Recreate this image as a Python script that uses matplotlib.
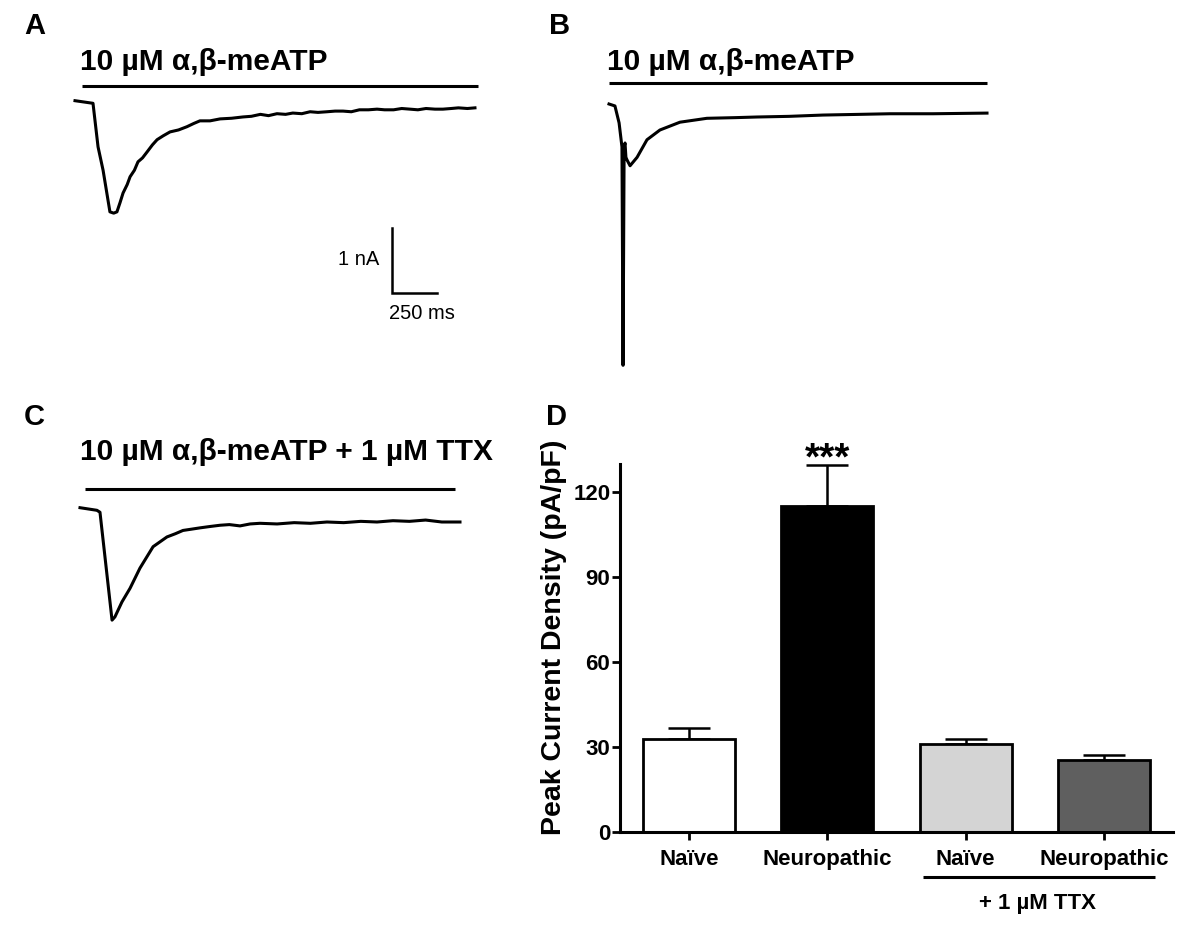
import matplotlib
matplotlib.use("Agg")
import matplotlib.pyplot as plt
import matplotlib.transforms as mtransforms

plt.rcParams['font.family'] = ['Liberation Sans', 'DejaVu Sans']

# Whole-cell currents (time in ms, current in nA)
trace_a_t = [0, 100, 128, 156, 194, 215, 233, 250, 267, 290, 306, 330, 350, 375, 400, 430, 456,
             490, 528, 575, 622, 660, 694, 750, 806, 870, 933, 980, 1030, 1075, 1122, 1170, 1210,
             1260, 1306, 1350, 1400, 1445, 1489, 1535, 1580, 1630, 1678, 1720, 1770, 1815, 1861,
             1905, 1950, 2000, 2044, 2090, 2130, 2180, 2222]
trace_a_i = [0.02, -0.02, -0.69, -1.05, -1.69, -1.71, -1.69, -1.55, -1.40, -1.27, -1.15, -1.05,
             -0.92, -0.86, -0.77, -0.66, -0.58, -0.52, -0.46, -0.43, -0.38, -0.33, -0.29, -0.29,
             -0.26, -0.25, -0.23, -0.22, -0.19, -0.21, -0.18, -0.19, -0.17, -0.18, -0.15, -0.16,
             -0.15, -0.14, -0.14, -0.15, -0.12, -0.12, -0.11, -0.12, -0.12, -0.10, -0.11, -0.12,
             -0.10, -0.11, -0.11, -0.10, -0.09, -0.10, -0.09]

trace_b_t = [0, 33, 56, 72, 78, 84, 89, 94, 100, 117, 156, 211, 283, 394, 544, 700, 822, 1000,
             1189, 1380, 1561, 1800, 2100]
trace_b_i = [0, -0.03, -0.29, -0.66, -4.02, -0.66, -0.60, -0.82, -0.86, -0.95, -0.82, -0.55,
             -0.40, -0.28, -0.22, -0.21, -0.20, -0.19, -0.17, -0.16, -0.15, -0.15, -0.14]

trace_c_t = [0, 94, 111, 178, 194, 233, 278, 333, 406, 483, 530, 572, 620, 667, 720, 778, 830,
             889, 945, 1000, 1095, 1190, 1280, 1372, 1465, 1560, 1650, 1739, 1830, 1920, 2010,
             2111]
trace_c_i = [0.02, -0.02, -0.05, -1.71, -1.66, -1.43, -1.22, -0.91, -0.58, -0.43, -0.38, -0.33,
             -0.31, -0.29, -0.27, -0.25, -0.24, -0.26, -0.23, -0.22, -0.23, -0.21, -0.22, -0.20,
             -0.21, -0.19, -0.20, -0.18, -0.19, -0.17, -0.20, -0.20]

# drug application bars (start, end in ms, level in nA)
drug_a = (39, 2239, 0.25)
drug_b = (0, 2100, 0.32)
drug_c = (28, 2083, 0.31)

# Panel D: peak current density
groups = ["Naïve", "Neuropathic", "Naïve", "Neuropathic"]
means = [32.7, 115.3, 31.0, 25.4]
sems = [4.2, 14.5, 1.8, 1.9]
colors = ["white", "black", "#d4d4d4", "#5f5f5f"]

W, H = 1200, 933
MS_PER_PX = 250 / 45.0
PX_PER_NA = 65.0


def trace_axes(fig, left, top, right, bottom, x0, y0):
    # axes covering a pixel box; (x0, y0) is the pixel of t=0, I=0
    ax = fig.add_axes([left / W, 1 - bottom / H, (right - left) / W, (bottom - top) / H])
    ax.set_xlim((left - x0) * MS_PER_PX, (right - x0) * MS_PER_PX)
    ax.set_ylim(-(bottom - y0) / PX_PER_NA, -(top - y0) / PX_PER_NA)
    ax.axis('off')
    return ax


def draw_trace(ax, t, i, drug):
    ax.plot(t, i, color='black', lw=2.2, solid_joinstyle='round')
    ax.plot([drug[0], drug[1]], [drug[2], drug[2]], color='black', lw=2.2, solid_capstyle='butt')


fig = plt.figure(figsize=(W / 100, H / 100), dpi=100)

ax_a = trace_axes(fig, 60, 70, 500, 380, 75, 102)
draw_trace(ax_a, trace_a_t, trace_a_i, drug_a)
# scale bar: 250 ms / 1 nA
sb_t, sb_i = 1761, -2.94
ax_a.plot([sb_t, sb_t, sb_t + 250], [sb_i + 1, sb_i, sb_i], color='black', lw=1.8,
          solid_joinstyle='miter')
ax_a.text(sb_t - 70, sb_i + 0.52, "1 nA", ha='right', va='center', fontsize=14.5)
ax_a.text(sb_t - 15, sb_i - 0.17, "250 ms", ha='left', va='top', fontsize=14.5)

ax_b = trace_axes(fig, 590, 70, 1010, 380, 609, 104)
draw_trace(ax_b, trace_b_t, trace_b_i, drug_b)

ax_c = trace_axes(fig, 60, 480, 500, 640, 80, 509)
draw_trace(ax_c, trace_c_t, trace_c_i, drug_c)

title = "10 µM α,β-meATP"
fig.text(80 / W, 1 - 62 / H, title, fontsize=21.5, fontweight='bold', va='center')
fig.text(607 / W, 1 - 62 / H, title, fontsize=21.5, fontweight='bold', va='center')
fig.text(80 / W, 1 - 452 / H, title + " + 1 µM TTX", fontsize=21.5, fontweight='bold',
         va='center')

for letter, (px, py) in zip("ABCD", [(24, 26), (549, 26), (24, 417), (546, 417)]):
    fig.text(px / W, 1 - py / H, letter, fontsize=21, fontweight='bold', va='center')

# Panel D bar chart
ax_d = fig.add_axes([620 / W, 1 - 832 / H, 553 / W, 368 / H])
x = list(range(len(groups)))
ax_d.bar(x, means, width=0.667, color=colors, edgecolor='black', linewidth=2.0, zorder=2)
ax_d.errorbar(x, means, yerr=[[0] * len(sems), sems], fmt='none', ecolor='black',
              elinewidth=1.8, capsize=15, capthick=1.8, zorder=1)
ax_d.set_xlim(-0.5, 3.5)
ax_d.set_ylim(0, 130)
ax_d.set_yticks([0, 30, 60, 90, 120])
ax_d.set_xticks(x)
ax_d.set_xticklabels(groups)
for lab in ax_d.get_xticklabels() + ax_d.get_yticklabels():
    lab.set_fontweight('bold')
    lab.set_fontsize(16)
ax_d.tick_params(axis='y', length=6, width=2, pad=1)
ax_d.tick_params(axis='x', length=6, width=2, pad=6)
ax_d.spines['top'].set_visible(False)
ax_d.spines['right'].set_visible(False)
ax_d.spines['left'].set_linewidth(2.2)
ax_d.spines['bottom'].set_linewidth(2.2)
ax_d.set_ylabel("Peak Current Density (pA/pF)", fontsize=20.5, fontweight='bold')
ax_d.yaxis.set_label_coords(-0.096, 0.53)

ax_d.text(1, 128, "***", ha='center', va='baseline', fontsize=28, fontweight='bold',
          clip_on=False)

blend = mtransforms.blended_transform_factory(ax_d.transData, ax_d.transAxes)
ax_d.plot([1.69, 3.37], [-0.122, -0.122], color='black', lw=2.2, transform=blend,
          clip_on=False, solid_capstyle='butt')
ax_d.text(2.52, -0.193, "+ 1 µM TTX", transform=blend, ha='center', va='center',
          fontsize=16, fontweight='bold')

fig.savefig("out.png", dpi=100)
